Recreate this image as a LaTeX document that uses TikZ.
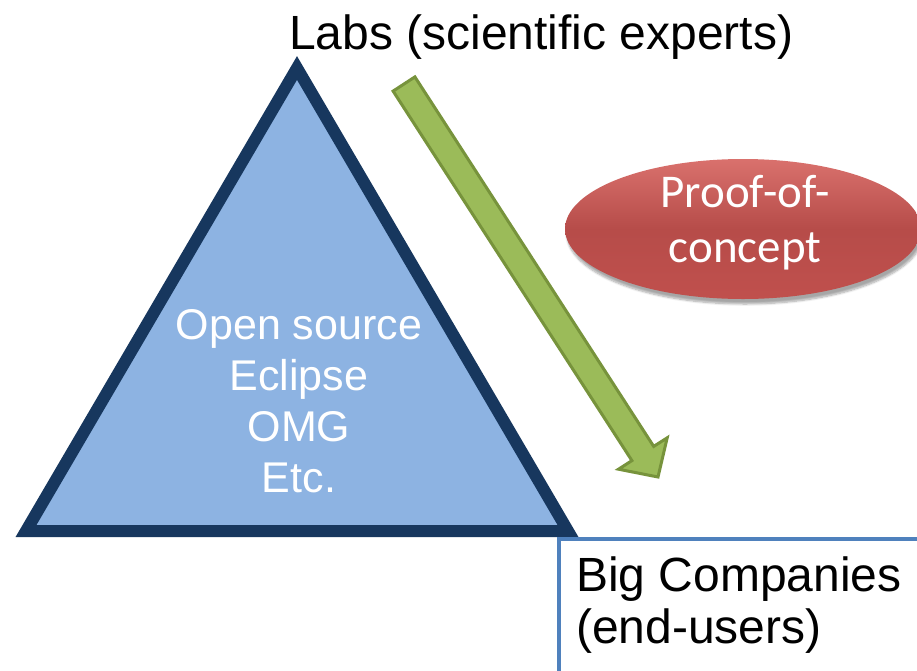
\documentclass[tikz,border=0pt]{standalone}
\usepackage{fontspec}
\setmainfont{Liberation Sans}
\newfontfamily\calibri{Carlito}
\usetikzlibrary{shapes.geometric,shadows.blur}
\definecolor{navy}{HTML}{17375E}
\definecolor{triblue}{HTML}{8DB3E2}
\definecolor{agreen}{HTML}{9BBB59}
\definecolor{agreenline}{HTML}{77933C}
\definecolor{pocred}{HTML}{C0504D}
\definecolor{poclight}{HTML}{D9716D}
\definecolor{boxblue}{HTML}{4F81BD}
\tikzset{
  bigtext/.style={font=\fontsize{48}{52}\selectfont, text=black, inner sep=0pt},
  tritext/.style={font=\fontsize{43}{51}\selectfont, text=white, align=center, inner sep=0pt},
  pocshape/.style={ellipse, minimum width=356pt, minimum height=140pt, inner sep=0pt,
    top color=poclight, bottom color=pocred, middle color=pocred!95!black,
    blur shadow={shadow xshift=2pt, shadow yshift=-5pt, shadow blur steps=8, shadow opacity=35}},
  poctext/.style={font=\calibri\fontsize{47}{55}\selectfont, text=white, align=center, inner sep=0pt},
  bigbox/.style={draw=boxblue, line width=4pt, fill=white, inner sep=0pt},
  arrowblock/.style={fill=agreen, draw=agreenline, line width=3pt, line join=miter},
  tri/.style={fill=triblue, draw=navy, line width=12pt, line join=miter}
}
\begin{document}
\begin{tikzpicture}[x=1pt,y=-1pt]
\useasboundingbox (0,0) rectangle (917,670);
\clip (0,0) rectangle (917,670);
% triangle
\coordinate (ta) at (297,68);
\coordinate (tl) at (26,531);
\coordinate (tr) at (568,531);
\draw[tri] (ta) -- (tl) -- (tr) -- cycle;
\node[tritext] (tritxt) at (299,401) {Open source\\Eclipse\\OMG\\Etc.};
% green block arrow
\coordinate (p1) at (393.1,91.1);
\coordinate (p2) at (414.9,76.9);
\coordinate (p3) at (653.7,446.4);
\coordinate (p4) at (667.2,437.8);
\coordinate (tip) at (658,477);
\coordinate (p5) at (618.5,469.2);
\coordinate (p6) at (631.9,460.6);
\draw[arrowblock] (p1) -- (p6) -- (p5) -- (tip) -- (p4) -- (p3) -- (p2) -- cycle;
% proof-of-concept ellipse
\node[pocshape] (poc) at (743,229) {};
\node[poctext, anchor=base] (poctxt) at (745,262) {Proof-of-\\concept};
% labs
\node[bigtext, anchor=base west] (labs) at (289,49) {Labs (scientific experts)};
% big companies box
\node[bigbox, anchor=north west, minimum width=400pt, minimum height=160pt] (bc) at (557,537) {};
\node[bigtext, anchor=base west, align=left] (bctxt) at (576,643) {Big Companies\\(end-users)};
\end{tikzpicture}
\end{document}
